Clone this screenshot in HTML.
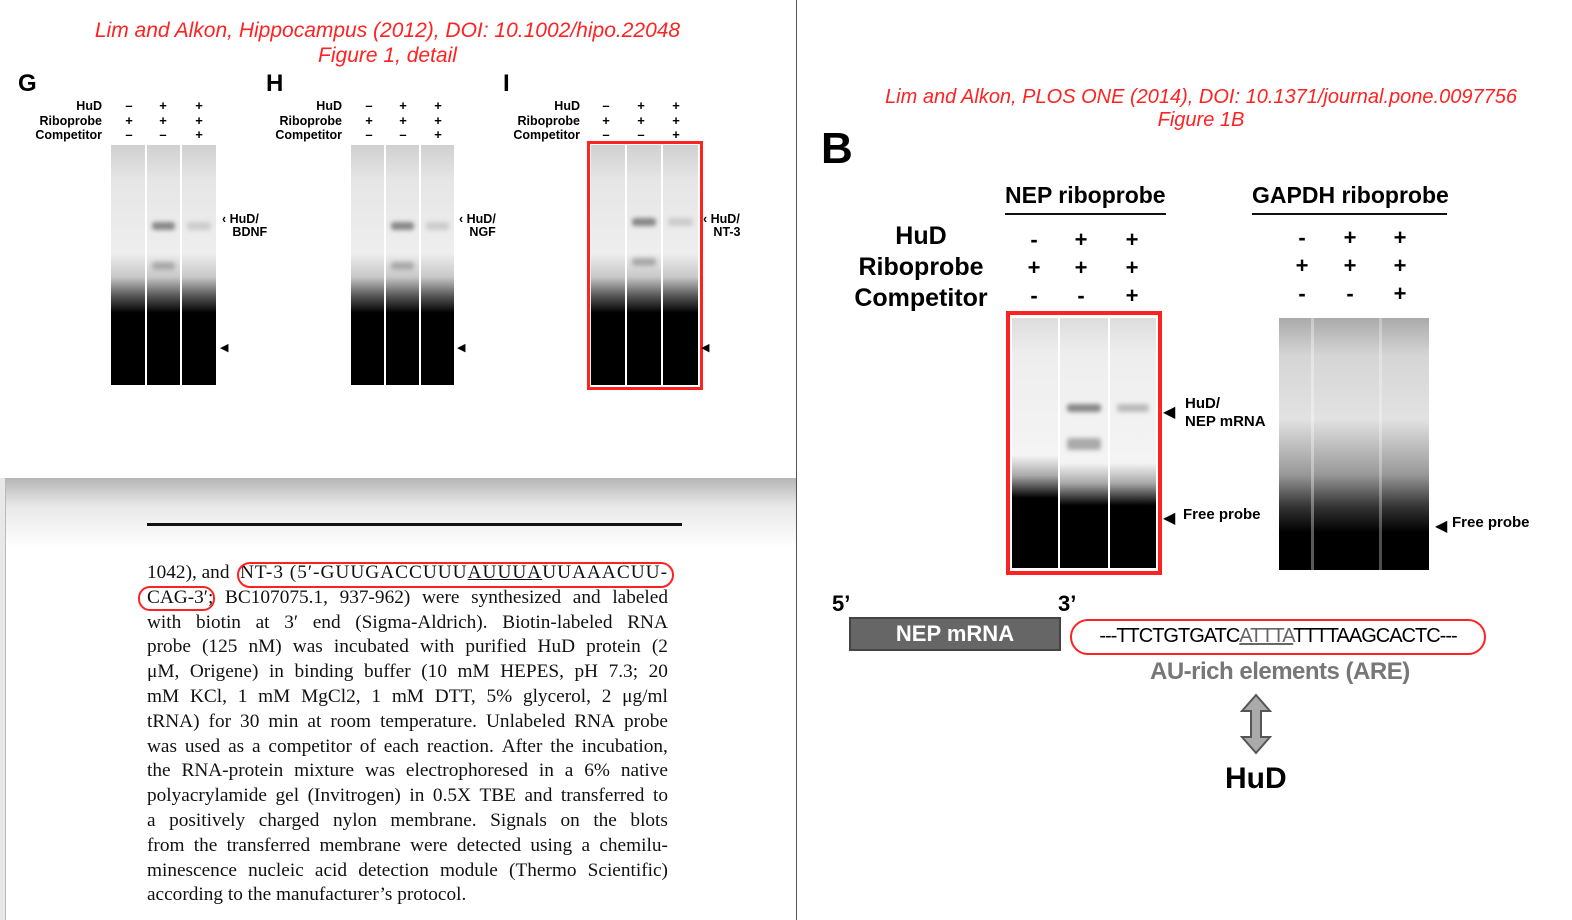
<!DOCTYPE html>
<html><head><meta charset="utf-8"><style>
*{margin:0;padding:0;box-sizing:border-box}
body{width:1572px;height:920px;position:relative;overflow:hidden;background:#fff;font-family:"Liberation Sans",sans-serif}
.a{position:absolute;white-space:nowrap}
.red{color:#f22;font-style:italic;font-size:21px;text-align:center}
.lbl{font-weight:bold;font-size:12.5px;text-align:right;line-height:14.5px}
.pm{font-weight:bold;font-size:13px;width:20px;text-align:center;line-height:14.5px}
.lane{position:absolute;background:linear-gradient(to bottom,#d0d0d0 0%,#e6e6e6 15%,#eeeeee 45%,#c8c8c8 55%,#555 63%,#000 70%,#000 100%)}
.lane2{position:absolute;background:linear-gradient(to bottom,#aaa 0%,#d5d5d5 15%,#e2e2e2 40%,#999 62%,#333 75%,#000 85%,#000 100%)}
.band{position:absolute;left:15%;width:70%;height:8px;background:#888;filter:blur(2px);border-radius:3px}
.big{font-weight:bold;font-size:25px;line-height:31px;text-align:center}
.pm2{font-weight:bold;font-size:22px;width:24px;text-align:center}
.txt{position:absolute;left:147px;width:521px;font-family:"Liberation Serif",serif;font-size:19.3px;line-height:24.8px;color:#111}
.txt div{white-space:nowrap;display:flex;justify-content:space-between}
.small{font-weight:bold;font-size:12.5px;line-height:13px}
</style></head><body>
<div class="a" style="left:0;top:478px;width:797px;height:70px;background:linear-gradient(#b5b5b5,#e8e8e8 40%,#fff)"></div>
<div class="a" style="left:0;top:478px;width:6px;height:442px;background:#e6e8ea;border-right:1px solid #bbb"></div>
<div class="a" style="left:0;top:0;width:797px;height:478px;background:#fff;border-bottom-right-radius:8px"></div>
<div class="a" style="left:796px;top:0;width:1px;height:920px;background:#555"></div>

<div class="a red" style="left:0;width:775px;top:18px;line-height:25px">Lim and Alkon, Hippocampus (2012), DOI: 10.1002/hipo.22048<br>Figure 1, detail</div>

<div class="a" style="left:18px;top:70px;font-weight:bold;font-size:24px">G</div>
<div class="a lbl" style="left:0;width:102px;top:99px">HuD<br>Riboprobe<br>Competitor</div>
<div class="a pm" style="left:119px;top:99px">–<br>+<br>–</div>
<div class="a pm" style="left:153px;top:99px">+<br>+<br>–</div>
<div class="a pm" style="left:189px;top:99px">+<br>+<br>+</div>
<div class="lane" style="left:111px;top:145px;width:34px;height:240px"></div>
<div class="lane" style="left:147px;top:145px;width:33px;height:240px"><div class="band" style="top:77px"></div><div class="band" style="top:117px;background:#aaa"></div></div>
<div class="lane" style="left:182px;top:145px;width:34px;height:240px"><div class="band" style="top:77px;background:#ccc"></div></div>
<div class="a small" style="left:222px;top:213px">‹ HuD/<br>&nbsp;&nbsp;&nbsp;BDNF</div>
<div class="a" style="left:220px;top:341px;font-size:11px">◀</div>

<div class="a" style="left:266px;top:70px;font-weight:bold;font-size:24px">H</div>
<div class="a lbl" style="left:0;width:342px;top:99px">HuD<br>Riboprobe<br>Competitor</div>
<div class="a pm" style="left:359px;top:99px">–<br>+<br>–</div>
<div class="a pm" style="left:393px;top:99px">+<br>+<br>–</div>
<div class="a pm" style="left:428px;top:99px">+<br>+<br>+</div>
<div class="lane" style="left:351px;top:145px;width:33px;height:240px"></div>
<div class="lane" style="left:386px;top:145px;width:33px;height:240px"><div class="band" style="top:77px"></div><div class="band" style="top:117px;background:#aaa"></div></div>
<div class="lane" style="left:421px;top:145px;width:33px;height:240px"><div class="band" style="top:77px;background:#ccc"></div></div>
<div class="a small" style="left:459px;top:213px">‹ HuD/<br>&nbsp;&nbsp;&nbsp;NGF</div>
<div class="a" style="left:457px;top:341px;font-size:11px">◀</div>

<div class="a" style="left:503px;top:70px;font-weight:bold;font-size:24px">I</div>
<div class="a lbl" style="left:0;width:580px;top:99px">HuD<br>Riboprobe<br>Competitor</div>
<div class="a pm" style="left:596px;top:99px">–<br>+<br>–</div>
<div class="a pm" style="left:631px;top:99px">+<br>+<br>–</div>
<div class="a pm" style="left:666px;top:99px">+<br>+<br>+</div>
<div class="lane" style="left:591px;top:145px;width:34px;height:240px"></div>
<div class="lane" style="left:627px;top:145px;width:34px;height:240px"><div class="band" style="top:73px"></div><div class="band" style="top:113px;background:#aaa"></div></div>
<div class="lane" style="left:663px;top:145px;width:35px;height:240px"><div class="band" style="top:73px;background:#ccc"></div></div>
<div class="a" style="left:587px;top:141px;width:116px;height:249px;border:3.5px solid #f22"></div>
<div class="a small" style="left:703px;top:213px">‹ HuD/<br>&nbsp;&nbsp;&nbsp;NT-3</div>
<div class="a" style="left:701px;top:341px;font-size:11px">◀</div>

<div class="a" style="left:147px;top:523px;width:535px;height:3px;background:#111"></div>
<div class="txt" style="top:561px">
<div><span>1042), and&nbsp;</span><span style="letter-spacing:1px">NT-3 (5′-GUUGACCUUU<u>AUUUA</u>UUAAACUU-</span></div>
<div><span>CAG-3′;</span><span>BC107075.1,</span><span>937-962)</span><span>were</span><span>synthesized</span><span>and</span><span>labeled</span></div>
<div><span>with</span><span>biotin</span><span>at</span><span>3′</span><span>end</span><span>(Sigma-Aldrich).</span><span>Biotin-labeled</span><span>RNA</span></div>
<div><span>probe</span><span>(125</span><span>nM)</span><span>was</span><span>incubated</span><span>with</span><span>purified</span><span>HuD</span><span>protein</span><span>(2</span></div>
<div><span>μM,</span><span>Origene)</span><span>in</span><span>binding</span><span>buffer</span><span>(10</span><span>mM</span><span>HEPES,</span><span>pH</span><span>7.3;</span><span>20</span></div>
<div><span>mM</span><span>KCl,</span><span>1</span><span>mM</span><span>MgCl2,</span><span>1</span><span>mM</span><span>DTT,</span><span>5%</span><span>glycerol,</span><span>2</span><span>μg/ml</span></div>
<div><span>tRNA)</span><span>for</span><span>30</span><span>min</span><span>at</span><span>room</span><span>temperature.</span><span>Unlabeled</span><span>RNA</span><span>probe</span></div>
<div><span>was</span><span>used</span><span>as</span><span>a</span><span>competitor</span><span>of</span><span>each</span><span>reaction.</span><span>After</span><span>the</span><span>incubation,</span></div>
<div><span>the</span><span>RNA-protein</span><span>mixture</span><span>was</span><span>electrophoresed</span><span>in</span><span>a</span><span>6%</span><span>native</span></div>
<div><span>polyacrylamide</span><span>gel</span><span>(Invitrogen)</span><span>in</span><span>0.5X</span><span>TBE</span><span>and</span><span>transferred</span><span>to</span></div>
<div><span>a</span><span>positively</span><span>charged</span><span>nylon</span><span>membrane.</span><span>Signals</span><span>on</span><span>the</span><span>blots</span></div>
<div><span>from</span><span>the</span><span>transferred</span><span>membrane</span><span>were</span><span>detected</span><span>using</span><span>a</span><span>chemilu-</span></div>
<div><span>minescence</span><span>nucleic</span><span>acid</span><span>detection</span><span>module</span><span>(Thermo</span><span>Scientific)</span></div>
<div style="justify-content:flex-start">according to the manufacturer’s protocol.</div>
</div>
<div class="a" style="left:237px;top:562px;width:437px;height:26px;border:2.5px solid #f22;border-radius:13px"></div>
<div class="a" style="left:138px;top:586px;width:77px;height:25px;border:2.5px solid #f22;border-radius:12px"></div>

<div class="a red" style="left:830px;width:742px;top:86px;line-height:23px;font-size:20px">Lim and Alkon, PLOS ONE (2014), DOI: 10.1371/journal.pone.0097756<br>Figure 1B</div>
<div class="a" style="left:821px;top:124px;font-weight:bold;font-size:44px">B</div>
<div class="a" style="left:1005px;top:182px;font-weight:bold;font-size:23px">NEP riboprobe</div>
<div class="a" style="left:1005px;top:213px;width:161px;height:2px;background:#111"></div>
<div class="a" style="left:1252px;top:182px;font-weight:bold;font-size:23px">GAPDH riboprobe</div>
<div class="a" style="left:1252px;top:213px;width:195px;height:2px;background:#111"></div>
<div class="a big" style="left:841px;width:160px;top:221px">HuD<br>Riboprobe<br>Competitor</div>
<div class="a pm2" style="left:1022px;top:226px;line-height:28px">-<br>+<br>-</div>
<div class="a pm2" style="left:1069px;top:226px;line-height:28px">+<br>+<br>-</div>
<div class="a pm2" style="left:1120px;top:226px;line-height:28px">+<br>+<br>+</div>
<div class="a pm2" style="left:1290px;top:224px;line-height:28px">-<br>+<br>-</div>
<div class="a pm2" style="left:1338px;top:224px;line-height:28px">+<br>+<br>-</div>
<div class="a pm2" style="left:1388px;top:224px;line-height:28px">+<br>+<br>+</div>

<div class="lane" style="left:1012px;top:318px;width:46px;height:250px;background:linear-gradient(#ddd,#eee 15%,#f4f4f4 55%,#aaa 63%,#000 72%,#000)"></div>
<div class="lane" style="left:1060px;top:318px;width:48px;height:250px;background:linear-gradient(#ddd,#eee 15%,#f4f4f4 58%,#aaa 66%,#000 75%,#000)"><div class="band" style="top:86px"></div><div class="band" style="top:120px;background:#aaa;height:12px"></div></div>
<div class="lane" style="left:1110px;top:318px;width:46px;height:250px;background:linear-gradient(#ddd,#eee 15%,#f4f4f4 58%,#aaa 66%,#000 75%,#000)"><div class="band" style="top:86px;background:#bbb"></div></div>
<div class="a" style="left:1006px;top:311px;width:156px;height:264px;border:4px solid #f22"></div>
<div class="lane2" style="left:1279px;top:318px;width:150px;height:252px"></div>
<div class="a" style="left:1311px;top:318px;width:3px;height:252px;background:rgba(255,255,255,.35)"></div>
<div class="a" style="left:1379px;top:318px;width:3px;height:252px;background:rgba(255,255,255,.3)"></div>

<div class="a" style="left:1163px;top:402px;font-size:16px">◀</div>
<div class="a small" style="left:1185px;top:395px;font-size:15px;line-height:18px">HuD/<br>NEP mRNA</div>
<div class="a" style="left:1163px;top:508px;font-size:16px">◀</div>
<div class="a small" style="left:1183px;top:508px;font-size:15px">Free probe</div>
<div class="a" style="left:1435px;top:516px;font-size:16px">◀</div>
<div class="a small" style="left:1452px;top:516px;font-size:15px">Free probe</div>

<div class="a" style="left:832px;top:591px;font-weight:bold;font-size:22px">5’</div>
<div class="a" style="left:1058px;top:591px;font-weight:bold;font-size:22px">3’</div>
<div class="a" style="left:849px;top:617px;width:212px;height:34px;background:#666;border:2px solid #444;color:#fff;font-weight:bold;font-size:22px;text-align:center;line-height:30px">NEP mRNA</div>
<div class="a" style="left:1070px;top:619px;width:416px;height:36px;border:2.5px solid #f22;border-radius:18px;font-size:20px;line-height:31px;text-align:center;letter-spacing:-1px">---TTCTGTGATC<u style="color:#666">ATTTA</u>TTTTAAGCACTC---</div>
<div class="a" style="left:1150px;top:658px;font-weight:bold;font-size:24px;color:#777;letter-spacing:-0.5px">AU-rich elements (ARE)</div>
<svg class="a" style="left:1240px;top:693px" width="32" height="62"><polygon points="16,2 30,18 21,18 21,44 30,44 16,60 2,44 11,44 11,18 2,18" fill="#aaa" stroke="#555" stroke-width="2"/></svg>
<div class="a" style="left:1225px;top:762px;font-weight:bold;font-size:30px">HuD</div>
</body></html>
